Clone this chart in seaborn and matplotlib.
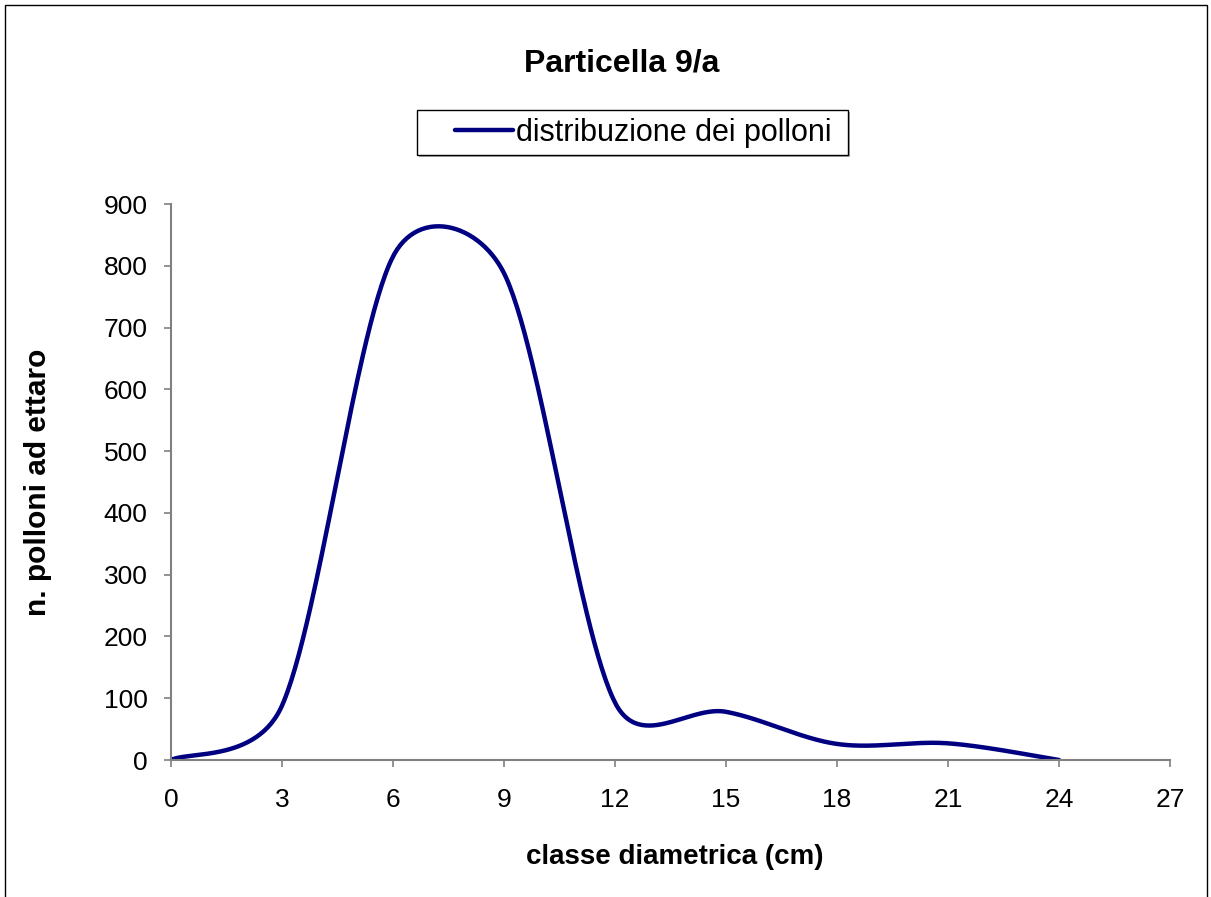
import numpy as np
import pandas as pd
import seaborn as sns
import matplotlib
matplotlib.use("Agg")
import matplotlib.pyplot as plt
from matplotlib.patches import Rectangle

# ----------------- Data -----------------
classe = [0, 3, 6, 9, 12, 15, 18, 21, 24]
polloni = [0, 88, 815, 788, 93, 78, 26, 27, 0]

W, H = 1211, 897
AX_L, AX_R, AX_T, AX_B = 171, 1170, 204, 760
XMAX, YMAX = 27, 900


# Excel-like smoothed line (bezier through the points), built in pixel space
def excel_smooth(x, y, sx, sy, n=60):
    P = np.column_stack([np.array(x, float) * sx, np.array(y, float) * sy])
    m = len(P)
    fwd = np.zeros_like(P)
    bwd = np.zeros_like(P)
    for i in range(m):
        prev = P[max(i - 1, 0)]
        nxt = P[min(i + 1, m - 1)]
        t = (nxt - prev) / 6.0
        tl = np.linalg.norm(t)
        d_next = np.linalg.norm(nxt - P[i])
        d_prev = np.linalg.norm(P[i] - prev)
        f = t.copy()
        b = t.copy()
        if tl > 0:
            if tl > d_next / 2:
                f = t / tl * d_next / 2
            if tl > d_prev / 2:
                b = t / tl * d_prev / 2
        fwd[i] = P[i] + f
        bwd[i] = P[i] - b
    xs, ys = [], []
    tt = np.linspace(0, 1, n)
    for i in range(m - 1):
        p0, c1, c2, p1 = P[i], fwd[i], bwd[i + 1], P[i + 1]
        seg = ((1 - tt) ** 3)[:, None] * p0 + (3 * (1 - tt) ** 2 * tt)[:, None] * c1 \
            + (3 * (1 - tt) * tt ** 2)[:, None] * c2 + (tt ** 3)[:, None] * p1
        xs.extend(seg[:, 0] / sx)
        ys.extend(seg[:, 1] / sy)
    return np.array(xs), np.array(ys)


sx = (AX_R - AX_L) / XMAX
sy = (AX_B - AX_T) / YMAX
xs, ys = excel_smooth(classe, polloni, sx, sy)
curve = pd.DataFrame({"classe": xs, "polloni": ys, "serie": "distribuzione dei polloni"})

# ----------------- Plot -----------------
sns.set_style("white")
plt.rcParams["font.family"] = ["Liberation Sans", "DejaVu Sans"]
plt.rcParams["text.color"] = "black"
plt.rcParams["axes.labelcolor"] = "black"

fig = plt.figure(figsize=(W / 100, H / 100), dpi=100)
ax = fig.add_axes([AX_L / W, 1 - AX_B / H, (AX_R - AX_L) / W, (AX_B - AX_T) / H])
ax.set_zorder(2)
ax.patch.set_alpha(0)

sns.lineplot(data=curve, x="classe", y="polloni", hue="serie", palette=["#000080"],
             sort=False, estimator=None, linewidth=3.2, ax=ax)

ax.set_xlim(0, XMAX)
ax.set_ylim(0, YMAX)
ax.set_xticks(range(0, 28, 3))
ax.set_yticks(range(0, 901, 100))
for s in ["top", "right"]:
    ax.spines[s].set_visible(False)
for s in ["left", "bottom"]:
    ax.spines[s].set_color("#808080")
    ax.spines[s].set_linewidth(1.5)
ax.tick_params(axis="both", direction="out", length=5, width=1.2, color="#808080",
               labelsize=19, labelcolor="black", left=True, bottom=True)
ax.tick_params(axis="x", pad=15)
ax.tick_params(axis="y", pad=12)

ax.set_xlabel("classe diametrica (cm)", fontsize=20, fontweight="bold")
ax.set_ylabel("n. polloni ad ettaro", fontsize=21.5, fontweight="bold")
ax.xaxis.set_label_coords((675 - AX_L) / (AX_R - AX_L), -0.151)
ax.yaxis.set_label_coords((52 - AX_L) / (AX_R - AX_L), 0.5)

fig.text(622 / W, 1 - 63 / H, "Particella 9/a", fontsize=23, fontweight="bold",
         ha="center", va="center")

# legend: content placed by matplotlib, box drawn like the Excel one
ax.legend(title=None, loc="center left", bbox_to_anchor=(455 / W, 1 - 133 / H),
          bbox_transform=fig.transFigure, fontsize=22, frameon=False,
          handlelength=1.9, handletextpad=0.1, borderpad=0, borderaxespad=0)
fig.patches.append(Rectangle((419 / W, 1 - 157 / H), 431 / W, 45 / H,
                             transform=fig.transFigure, facecolor="#b0b0b0",
                             edgecolor="none", zorder=0))
fig.patches.append(Rectangle((417 / W, 1 - 155 / H), 431 / W, 45 / H,
                             transform=fig.transFigure, facecolor="white",
                             edgecolor="black", linewidth=1.0, zorder=0.5))

# outer chart border
fig.patches.append(Rectangle((5 / W, -0.01), 1202 / W, 1 - 5 / H + 0.01,
                             transform=fig.transFigure, fill=False,
                             edgecolor="black", linewidth=1.0))

fig.savefig("out.png", dpi=100)
